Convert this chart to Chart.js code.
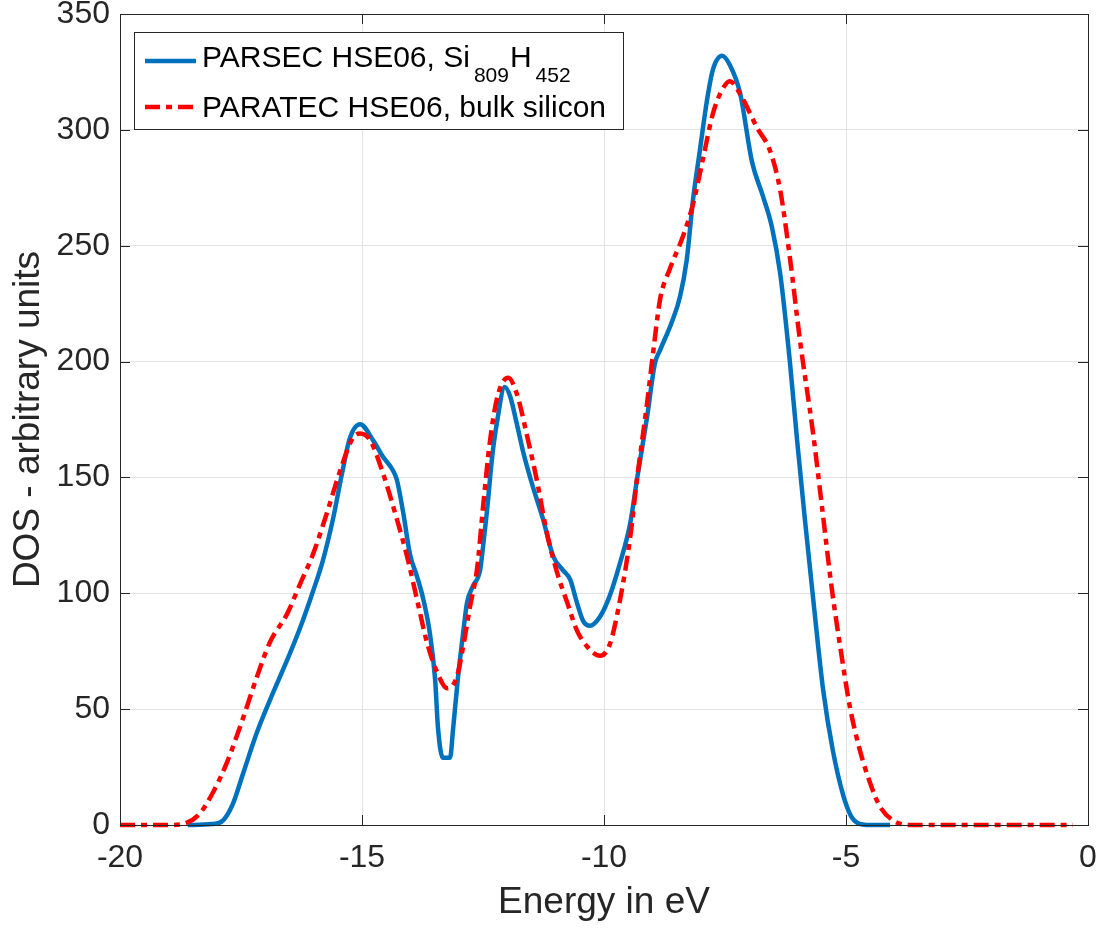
<!DOCTYPE html>
<html>
<head>
<meta charset="utf-8">
<script src="https://cdn.jsdelivr.net/npm/chart.js@4.4.1/dist/chart.umd.min.js"></script>
<style>
  body { margin: 0; background: #fff; }
  canvas { display: block; }
</style>
</head>
<body>
<canvas id="chart" width="1101" height="930"></canvas>
<script>
// DOS (energy in eV, arbitrary units)
const parsecEnergy = [-18.6, -18.1, -17.87, -17.67, -17.46, -17.17, -16.9, -16.55, -16.28, -16.01,
  -15.81, -15.6, -15.41, -15.25, -15.04, -14.77, -14.57, -14.36, -14.28, -14.15,
  -14.01, -13.86, -13.74, -13.6, -13.49, -13.43, -13.33, -13.18, -13.12, -13.02,
  -12.91, -12.83, -12.71, -12.56, -12.5, -12.42, -12.31, -12.21, -12.05, -11.94,
  -11.8, -11.67, -11.47, -11.26, -11.05, -10.85, -10.7, -10.56, -10.43, -10.29,
  -10.08, -9.88, -9.67, -9.46, -9.32, -9.11, -8.95, -8.84, -8.6, -8.43,
  -8.29, -8.16, -8.02, -7.87, -7.75, -7.56, -7.4, -7.19, -6.94, -6.71,
  -6.53, -6.36, -6.16, -6.01, -5.85, -5.68, -5.47, -5.27, -5.06, -4.9,
  -4.77, -4.5, -4.09];
const parsecDos = [0, 0.4, 2, 9, 22, 40, 54, 71, 85, 101,
  114, 132, 152, 167, 173, 166, 159, 153, 149, 135,
  117, 107, 98, 83, 63, 42, 29, 29, 41, 63,
  83, 96, 103, 110, 120, 135, 159, 174, 189, 185,
  173, 161, 146, 132, 116, 110, 106, 96, 88, 86,
  90, 99, 113, 130, 149, 176, 199, 205, 217, 228,
  244, 270, 291, 313, 326, 332, 328, 316, 286, 271,
  258, 238, 200, 166, 132, 98, 58, 32, 13, 4,
  1, 0, 0];

const paratecEnergy = [-20, -19, -18.62, -18.35, -18.08, -17.79, -17.46, -17.17, -16.9, -16.55,
  -16.28, -16.01, -15.72, -15.45, -15.19, -15.04, -14.83, -14.57, -14.28, -14.07,
  -13.86, -13.66, -13.45, -13.24, -13.04, -12.91, -12.77, -12.62, -12.5, -12.36,
  -12.2, -11.98, -11.8, -11.59, -11.38, -11.18, -10.97, -10.76, -10.56, -10.35,
  -10.08, -9.88, -9.67, -9.46, -9.32, -9.11, -8.99, -8.84, -8.64, -8.37,
  -8.16, -7.95, -7.75, -7.54, -7.4, -7.15, -6.84, -6.57, -6.36, -6.16,
  -5.95, -5.68, -5.5, -5.3, -5.12, -4.92, -4.71, -4.5, -4.3, -4.03,
  -3.7, -0.31];
const paratecDos = [0, 0, 1, 5, 14, 27, 46, 64, 79, 91,
  104, 117, 135, 153, 167, 169, 166, 152, 132, 116,
  97, 79, 66, 59, 64, 77, 94, 111, 137, 165,
  185, 193, 186, 168, 148, 126, 109, 96, 84, 77,
  73, 78, 97, 124, 149, 182, 203, 227, 240, 254,
  268, 288, 307, 318, 321, 314, 301, 291, 274, 245,
  209, 169, 138, 103, 77, 51, 32, 18, 8, 2,
  0, 0];

const xTickValues = [-20, -15, -10, -5, 0];
const yTickValues = [0, 50, 100, 150, 200, 250, 300, 350];

// legend text pieces, true = subscript
const legendLabels = [
  [["PARSEC HSE06, Si", false], ["809", true], ["H", false], ["452", true]],
  [["PARATEC HSE06, bulk silicon", false]]
];

const FONT = "'Liberation Sans', Arial, Helvetica, sans-serif";
const AXIS_COLOR = "#262626";

function points(xs, ys) {
  return xs.map((x, i) => ({ x: x, y: ys[i] }));
}

// box outline with inward tick marks on all four sides
const framePlugin = {
  id: "frame",
  afterDatasetsDraw(chart) {
    const { ctx, chartArea: a, scales } = chart;
    const len = 10;
    ctx.save();
    ctx.strokeStyle = AXIS_COLOR;
    ctx.lineWidth = 1;
    ctx.beginPath();
    scales.x.ticks.forEach(t => {
      const px = Math.round(scales.x.getPixelForValue(t.value)) + 0.5;
      ctx.moveTo(px, a.bottom); ctx.lineTo(px, a.bottom - len);
      ctx.moveTo(px, a.top); ctx.lineTo(px, a.top + len);
    });
    scales.y.ticks.forEach(t => {
      const py = Math.round(scales.y.getPixelForValue(t.value)) + 0.5;
      ctx.moveTo(a.left, py); ctx.lineTo(a.left + len, py);
      ctx.moveTo(a.right, py); ctx.lineTo(a.right - len, py);
    });
    ctx.stroke();
    ctx.strokeRect(Math.round(a.left) + 0.5, Math.round(a.top) + 0.5,
      Math.round(a.right - a.left), Math.round(a.bottom - a.top));
    ctx.restore();
  }
};

// legend drawn by hand so the subscripts can be set
const legendPlugin = {
  id: "subLegend",
  afterDraw(chart) {
    const { ctx } = chart;
    const box = { left: 134, top: 32, width: 489, height: 97 };
    const rows = [{ lineY: 61, base: 67 }, { lineY: 107, base: 117 }];
    ctx.save();
    ctx.fillStyle = "#fff";
    ctx.fillRect(box.left, box.top, box.width, box.height);
    ctx.strokeStyle = AXIS_COLOR;
    ctx.lineWidth = 1;
    ctx.strokeRect(box.left + 0.5, box.top + 0.5, box.width, box.height);
    chart.data.datasets.forEach((ds, i) => {
      const r = rows[i];
      ctx.beginPath();
      ctx.strokeStyle = ds.borderColor;
      ctx.lineWidth = ds.borderWidth;
      ctx.setLineDash(ds.borderDash || []);
      ctx.moveTo(145, r.lineY);
      ctx.lineTo(196, r.lineY);
      ctx.stroke();
      ctx.setLineDash([]);
      let x = 202;
      ctx.fillStyle = "#000";
      ctx.textBaseline = "alphabetic";
      ctx.textAlign = "left";
      legendLabels[i].forEach(([txt, sub]) => {
        ctx.font = (sub ? "21px " : "30px ") + FONT;
        ctx.fillText(txt, x, sub ? r.base + 15 : r.base);
        x += ctx.measureText(txt).width + (sub ? 1 : 4);
      });
    });
    ctx.restore();
  }
};

new Chart(document.getElementById("chart").getContext("2d"), {
  type: "line",
  data: {
    datasets: [
      {
        label: "PARSEC HSE06, Si809H452",
        data: points(parsecEnergy, parsecDos),
        borderColor: "#0072BD",
        borderWidth: 4.5,
        order: 1
      },
      {
        label: "PARATEC HSE06, bulk silicon",
        data: points(paratecEnergy, paratecDos),
        borderColor: "#FF0000",
        borderWidth: 4.5,
        borderDash: [15, 6, 6, 6],
        order: 0
      }
    ]
  },
  options: {
    responsive: false,
    animation: false,
    layout: { padding: { top: 14, right: 13, left: 0, bottom: 0 } },
    elements: {
      point: { radius: 0 },
      line: { cubicInterpolationMode: "monotone", fill: false, borderCapStyle: "butt" }
    },
    datasets: { line: { clip: 8 } },
    scales: {
      x: {
        type: "linear",
        min: -20,
        max: 0,
        afterBuildTicks: s => { s.ticks = xTickValues.map(v => ({ value: v })); },
        afterFit: s => { s.height = 105; s.paddingLeft = 0; s.paddingRight = 0; },
        grid: { color: "#e3e3e3", drawTicks: false },
        border: { display: false },
        ticks: { color: AXIS_COLOR, font: { family: FONT, size: 32 }, padding: 14, maxRotation: 0 },
        title: {
          display: true,
          text: "Energy in eV",
          color: AXIS_COLOR,
          font: { family: FONT, size: 37 },
          padding: { top: 0, bottom: 5 }
        }
      },
      y: {
        min: 0,
        max: 350,
        afterBuildTicks: s => { s.ticks = yTickValues.map(v => ({ value: v })); },
        afterFit: s => { s.width = 120; s.paddingTop = 0; s.paddingBottom = 0; },
        grid: { color: "#e3e3e3", drawTicks: false },
        border: { display: false },
        ticks: { color: AXIS_COLOR, font: { family: FONT, size: 32 }, padding: 10 },
        title: {
          display: true,
          text: "DOS - arbitrary units",
          color: AXIS_COLOR,
          font: { family: FONT, size: 37 },
          padding: { top: 7, bottom: 0 }
        }
      }
    },
    plugins: {
      legend: { display: false },
      tooltip: { enabled: false }
    }
  },
  plugins: [framePlugin, legendPlugin]
});
</script>
</body>
</html>
